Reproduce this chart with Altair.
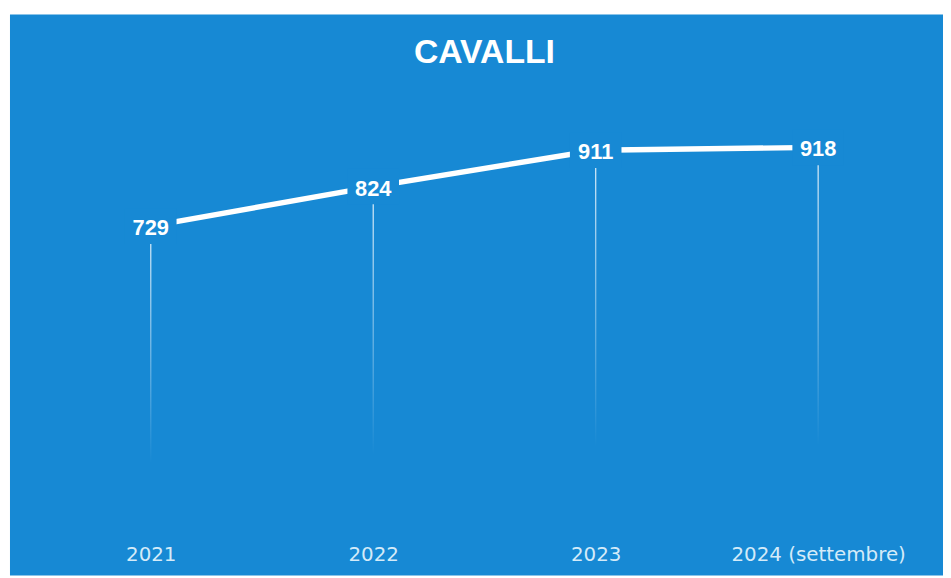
import altair as alt
import pandas as pd

years = ["2021", "2022", "2023", "2024 (settembre)"]
values = [729, 824, 911, 918]
title_text = "CAVALLI"

BLUE = "#1789d4"

df = pd.DataFrame({"anno": years, "cavalli": values})

x = alt.X("anno:N", sort=years,
          scale=alt.Scale(type="point", padding=0.597, align=0.53),
          axis=alt.Axis(title=None, orient="bottom", offset=-31, ticks=False, domain=False,
                        grid=False, labelPadding=0, labelAngle=0, labelLimit=0,
                        labelColor="#d4ebf9", labelFont="DejaVu Sans", labelFontSize=20))
y = alt.Y("cavalli:Q", scale=alt.Scale(domain=[-109, 1237], zero=False, nice=False), axis=None)

base = alt.Chart(df).encode(x=x, y=y)

fade = alt.Gradient(
    gradient="linear", x1=0, y1=0, x2=0, y2=1,
    stops=[alt.GradientStop(offset=0, color="rgba(255,255,255,0.85)"),
           alt.GradientStop(offset=0.78, color="rgba(255,255,255,0)")],
)

rules = base.mark_bar(size=1.3, fill=fade).encode(y2=alt.datum(0))
line = base.mark_line(color="white", strokeWidth=5.5)
boxes = base.mark_point(shape="M-1,-0.69H1V0.69H-1Z", size=2704, filled=True,
                        color=BLUE, opacity=1, strokeWidth=0)
labels = base.mark_text(dy=2, fontSize=22, fontWeight="bold", color="white",
                        font="Liberation Sans", baseline="middle").encode(text="cavalli:Q")

chart = alt.layer(rules, line, boxes, labels).properties(
    width=941, height=566,
    padding={"left": 2, "top": 4, "right": 0, "bottom": 0},
    autosize=alt.AutoSizeParams(type="none"),
    title=alt.TitleParams(title_text, fontSize=34, fontWeight="bold", color="white",
                          font="Liberation Sans", anchor="middle", frame="group",
                          offset=0, baseline="alphabetic", dy=83, dx=8),
).configure(background="white", view=alt.ViewConfig(fill=BLUE, strokeWidth=0))

chart.save("out.html", embed_options={"renderer": "svg", "actions": False})
